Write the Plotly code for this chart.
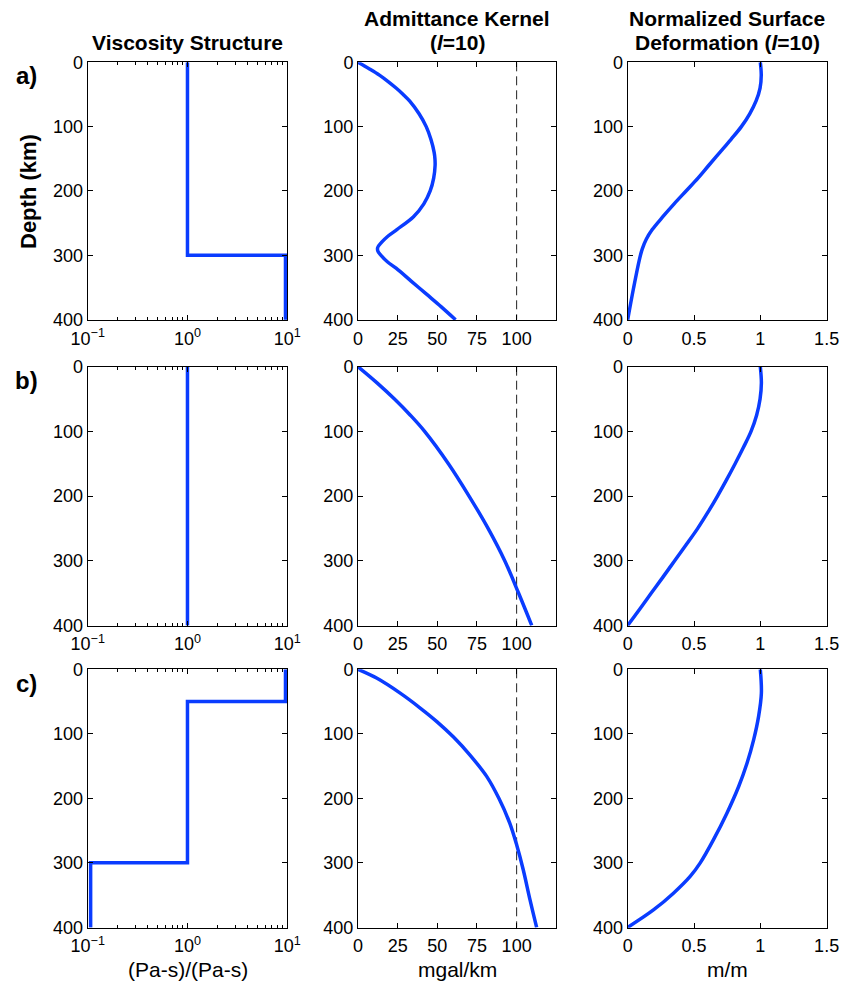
import plotly.graph_objects as go
from plotly.subplots import make_subplots

# ---------------- data ----------------
# Viscosity structure (relative viscosity vs depth, step profiles)
visc_a_x = [1, 1, 9.6, 9.6]
visc_a_d = [0, 300, 300, 400]
visc_b_x = [1, 1]
visc_b_d = [0, 400]
visc_c_x = [9.6, 9.6, 1, 1, 0.107, 0.107]
visc_c_d = [0, 50, 50, 300, 300, 400]

# Admittance kernel (mgal/km) vs depth (km)
kern_a_d = [0, 10, 20, 30, 40, 50, 60, 80, 100, 120, 140, 150, 160, 180, 200, 220, 240,
            260, 270, 280, 288, 294, 300, 310, 320, 340, 360, 380, 400]
kern_a_x = [0, 7, 13.5, 19, 24, 28.5, 32.5, 38.5, 43, 46, 48, 48.5, 48.6, 47.7, 45.5,
            41.5, 35, 24.5, 19, 14.8, 12.4, 12.6, 14.5, 18.5, 24, 33.5, 43, 52.5, 61.5]
kern_b_d = [0, 25, 50, 75, 100, 150, 200, 250, 300, 350, 400]
kern_b_x = [0, 12, 23, 33, 42, 57, 70, 82, 92.5, 101.2, 109.5]
kern_c_d = [0, 14, 37, 60, 81, 105, 133, 166, 200, 238, 272, 311, 357, 400]
kern_c_x = [0, 12, 26.6, 39.2, 49.7, 60.2, 70.6, 81.1, 88.8, 95.6, 100, 104.2, 108.4, 112.6]
ref_x = [100, 100]
ref_d = [0, 400]

# Normalized surface deformation (m/m) vs depth (km)
def_a_d = [0, 20, 40, 60, 80, 100, 120, 140, 160, 180, 200, 220, 240, 260, 275, 290, 305,
           350, 400]
def_a_x = [1.0, 1.007, 0.998, 0.968, 0.92, 0.857, 0.778, 0.695, 0.612, 0.53, 0.44, 0.35,
           0.265, 0.185, 0.14, 0.11, 0.09, 0.045, 0.0]
def_b_d = [0, 25, 50, 75, 100, 125, 150, 175, 200, 225, 250, 275, 300, 325, 350, 375, 400]
def_b_x = [1.0, 1.008, 0.998, 0.972, 0.93, 0.872, 0.81, 0.745, 0.677, 0.605, 0.528, 0.442,
           0.354, 0.267, 0.178, 0.09, 0.0]
def_c_d = [0, 37, 73, 109, 146, 182, 223, 264, 300, 321, 347, 373, 400]
def_c_x = [1.0, 1.008, 0.987, 0.95, 0.899, 0.836, 0.748, 0.647, 0.547, 0.471, 0.345,
           0.194, 0.0]

row_labels = ["a)", "b)", "c)"]
col_title_lines = [["", "<b>Viscosity Structure</b>"],
                   ["<b>Admittance Kernel</b>", "<b>(<i>l</i>=10)</b>"],
                   ["<b>Normalized Surface</b>", "<b>Deformation (<i>l</i>=10)</b>"]]
col_xtitles = ["(Pa-s)/(Pa-s)", "mgal/km", "m/m"]
depth_ticks = [0, 100, 200, 300, 400]
visc_ticks = [0.1, 1, 10]
visc_ticktext = ["10<sup>\u22121</sup>", "10<sup>0</sup>", "10<sup>1</sup>"]
visc_minor = [0.2, 0.3, 0.4, 0.5, 0.6, 0.7, 0.8, 0.9, 2, 3, 4, 5, 6, 7, 8, 9]
kern_ticks = [0, 25, 50, 75, 100]
def_ticks = [0, 0.5, 1, 1.5]
def_ticktext = ["0", "0.5", "1", "1.5"]

# ---------------- figure ----------------
W, H = 845, 986
BLUE = "#0A3CFF"
FONT = "Liberation Sans, Arial, Helvetica, sans-serif"


def px(x):
    return x / W


def py(y):
    return 1 - y / H


fig = make_subplots(rows=3, cols=3)

visc = [(visc_a_x, visc_a_d), (visc_b_x, visc_b_d), (visc_c_x, visc_c_d)]
kern = [(kern_a_x, kern_a_d), (kern_b_x, kern_b_d), (kern_c_x, kern_c_d)]
defo = [(def_a_x, def_a_d), (def_b_x, def_b_d), (def_c_x, def_c_d)]

for r in range(3):
    fig.add_trace(go.Scatter(x=visc[r][0], y=visc[r][1], mode="lines",
                             line=dict(color=BLUE, width=3.5)), row=r + 1, col=1)
    fig.add_trace(go.Scatter(x=ref_x, y=ref_d, mode="lines",
                             line=dict(color="#222222", width=1, dash="9px,5px")),
                  row=r + 1, col=2)
    fig.add_trace(go.Scatter(x=kern[r][0], y=kern[r][1], mode="lines", line_shape="spline",
                             line=dict(color=BLUE, width=3.5)), row=r + 1, col=2)
    fig.add_trace(go.Scatter(x=defo[r][0], y=defo[r][1], mode="lines", line_shape="spline",
                             line=dict(color=BLUE, width=3.5)), row=r + 1, col=3)

xdoms = [(87.7, 287.3), (358.0, 556.3), (627.7, 826.7)]
ydoms = [(62.3, 320.0), (366.7, 625.7), (669.3, 927.7)]

axis_common = dict(showline=True, linecolor="black", linewidth=1, mirror="ticks",
                   ticks="inside", ticklen=5, tickcolor="black", showgrid=False,
                   zeroline=False, automargin=False, ticklabeloverflow="allow",
                   tickfont=dict(family=FONT, size=18, color="black"))

for r in range(3):
    for c in range(3):
        idx = r * 3 + c + 1
        xa = "xaxis" if idx == 1 else f"xaxis{idx}"
        ya = "yaxis" if idx == 1 else f"yaxis{idx}"
        x0, x1 = xdoms[c]
        y0, y1 = ydoms[r]
        xd = dict(axis_common, domain=[px(x0), px(x1)], ticklabelstandoff=2)
        if c == 0:
            xd.update(type="log", range=[-1, 1.0005], tickmode="array", tickvals=visc_ticks,
                      ticktext=visc_ticktext,
                      minor=dict(ticks="inside", ticklen=3, tickcolor="black",
                                 tickmode="array", tickvals=visc_minor, showgrid=False))
        elif c == 1:
            xd.update(range=[0, 125], tickmode="array", tickvals=kern_ticks)
        else:
            xd.update(range=[0, 1.5005], tickmode="array", tickvals=def_ticks,
                      ticktext=def_ticktext)
        yd = dict(axis_common, domain=[py(y1), py(y0)], range=[400.5, 0],
                  tickmode="array", tickvals=depth_ticks)
        fig.layout[xa].update(xd)
        fig.layout[ya].update(yd)

annotations = []
title_line_y = [19, 42]
for c in range(3):
    cx = px((xdoms[c][0] + xdoms[c][1]) / 2)
    for k, line in enumerate(col_title_lines[c]):
        if not line:
            continue
        annotations.append(dict(text=line, x=cx, y=py(title_line_y[k]), xref="paper",
                                yref="paper", xanchor="center", yanchor="middle",
                                showarrow=False,
                                font=dict(family=FONT, size=21, color="black")))
    annotations.append(dict(text=col_xtitles[c], x=cx, y=py(969), xref="paper",
                            yref="paper", xanchor="center", yanchor="middle", showarrow=False,
                            font=dict(family=FONT, size=21, color="black")))
label_y = [76, 380, 683]
for r in range(3):
    annotations.append(dict(text=f"<b>{row_labels[r]}</b>", x=px(26), y=py(label_y[r]),
                            xref="paper", yref="paper", xanchor="center", yanchor="middle",
                            showarrow=False, font=dict(family=FONT, size=24, color="black")))
annotations.append(dict(text="<b>Depth (km)</b>", x=px(28), y=py(192), xref="paper",
                        yref="paper", xanchor="center", yanchor="middle", textangle=-90,
                        showarrow=False, font=dict(family=FONT, size=22, color="black")))

fig.update_layout(template="none", width=W, height=H, margin=dict(l=0, r=0, t=0, b=0),
                  paper_bgcolor="white", plot_bgcolor="white", showlegend=False,
                  hovermode=False, annotations=annotations,
                  font=dict(family=FONT, color="black"))

fig.write_html("out.html", config={"displayModeBar": False, "staticPlot": True},
               post_script="document.body.style.margin='0px';"
                           "document.documentElement.style.margin='0px';")
